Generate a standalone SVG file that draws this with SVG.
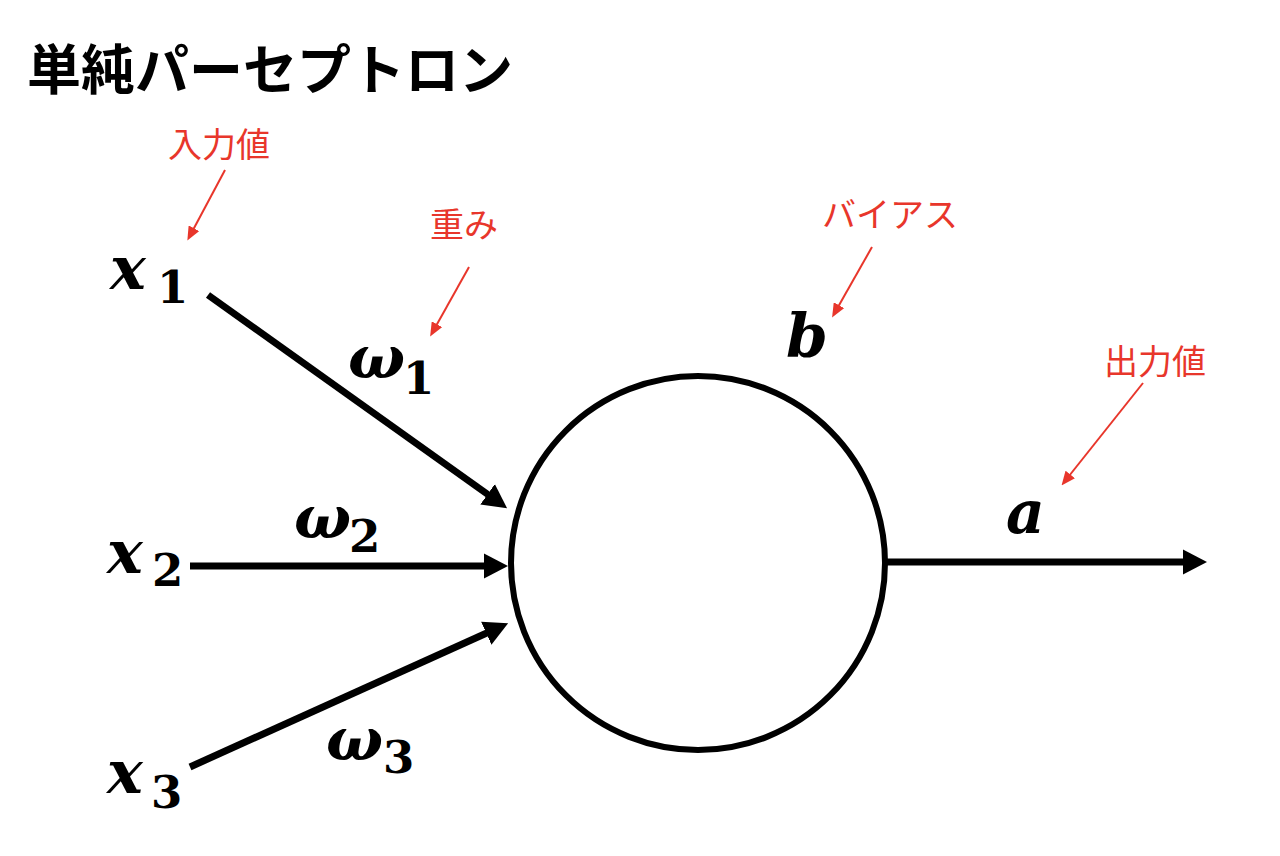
<svg xmlns="http://www.w3.org/2000/svg" width="1280" height="856" viewBox="0 0 1280 856">
<defs>
<style>
.title{font-family:"Noto Sans CJK JP","Noto Sans",sans-serif;font-weight:700;font-size:54px;fill:#000}
.note{font-family:"Noto Sans CJK JP","Noto Sans",sans-serif;font-weight:400;font-size:34px;fill:#e8362b}
.m{font-family:"DejaVu Serif","Liberation Serif",serif;font-weight:700;font-style:italic;font-size:60px;fill:#000}
.s{font-family:"DejaVu Serif","Liberation Serif",serif;font-weight:700;font-style:normal;font-size:45px;fill:#000}
.bk{stroke:#000;stroke-width:7;fill:none}
.rd{stroke:#e8362b;stroke-width:2;fill:none}
</style>
<marker id="ah" markerUnits="userSpaceOnUse" markerWidth="24" markerHeight="26" refX="3" refY="12.5" orient="auto" viewBox="0 0 24 25">
<path d="M0,0 L24,12.5 L0,25 z" fill="#000"/>
</marker>
<marker id="rh" markerUnits="userSpaceOnUse" markerWidth="14" markerHeight="12" refX="2" refY="6" orient="auto" viewBox="0 0 14 12">
<path d="M0,0 L14,6 L0,12 z" fill="#e8362b"/>
</marker>
</defs>
<rect width="1280" height="856" fill="#fff"/>
<text class="title" x="27" y="90">単純パーセプトロン</text>

<g id="neuron">
<circle cx="698" cy="563" r="187" fill="#fff" stroke="#000" stroke-width="6"/>
</g>

<g id="connectors">
<line class="bk" x1="208" y1="295" x2="490" y2="496" marker-end="url(#ah)"/>
<line class="bk" x1="190" y1="566" x2="487" y2="566" marker-end="url(#ah)"/>
<line class="bk" x1="190" y1="767" x2="489" y2="632" marker-end="url(#ah)"/>
<line class="bk" x1="886" y1="562" x2="1186" y2="562" marker-end="url(#ah)"/>
<line class="rd" x1="225" y1="170" x2="193" y2="230" marker-end="url(#rh)"/>
<line class="rd" x1="469" y1="267" x2="436" y2="326" marker-end="url(#rh)"/>
<line class="rd" x1="872" y1="247" x2="838" y2="307" marker-end="url(#rh)"/>
<line class="rd" x1="1143" y1="383" x2="1069" y2="476" marker-end="url(#rh)"/>
</g>

<g id="x1"><text class="m" x="110" y="289">x</text><text class="s" x="157" y="303">1</text></g>
<g id="x2"><text class="m" x="107" y="573">x</text><text class="s" x="152" y="586">2</text></g>
<g id="x3"><text class="m" x="107" y="793">x</text><text class="s" x="151" y="808">3</text></g>
<g id="w1"><text class="m" x="348" y="378">ω</text><text class="s" x="403" y="394">1</text></g>
<g id="w2"><text class="m" x="294" y="538">ω</text><text class="s" x="349" y="552">2</text></g>
<g id="w3"><text class="m" x="326" y="760">ω</text><text class="s" x="383" y="773">3</text></g>
<g id="b"><text class="m" x="786" y="357">b</text></g>
<g id="a"><text class="m" x="1006" y="533">a</text></g>

<g id="note-input"><text class="note" x="168" y="157">入力値</text></g>
<g id="note-weight"><text class="note" x="430" y="237">重み</text></g>
<g id="note-bias"><text class="note" x="822" y="227">バイアス</text></g>
<g id="note-output"><text class="note" x="1104" y="374">出力値</text></g>
</svg>
